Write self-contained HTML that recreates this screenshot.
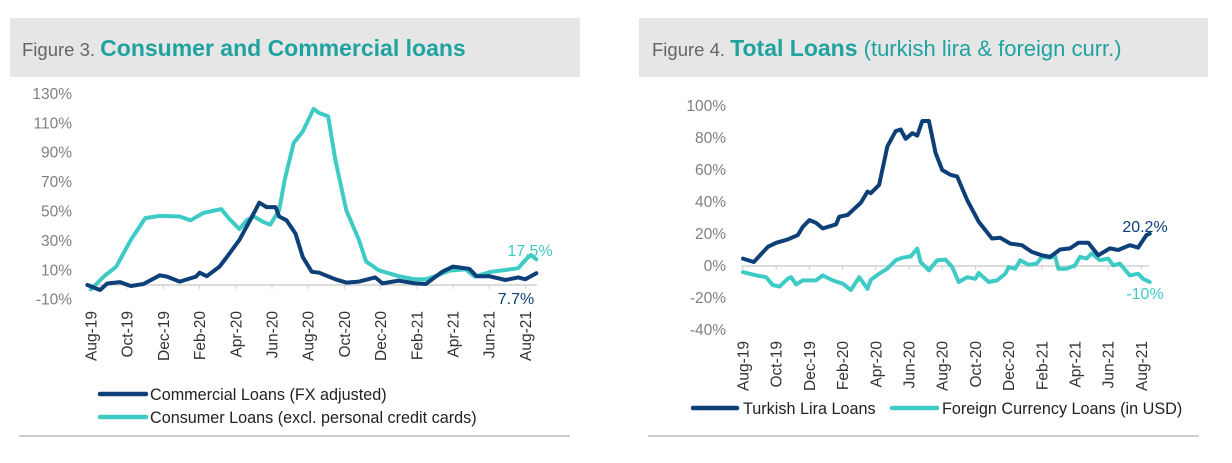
<!DOCTYPE html>
<html><head><meta charset="utf-8"><style>
body{margin:0;width:1232px;height:463px;background:#fff;overflow:hidden;font-family:"Liberation Sans",Arial,sans-serif;}
svg{position:absolute;left:0;top:0}
</style></head><body>
<svg id="s" width="1232" height="463" xmlns="http://www.w3.org/2000/svg" font-family="Liberation Sans, Arial, sans-serif">
<rect x="10" y="18" width="570" height="59" fill="#e6e6e6"/>
<rect x="639" y="18" width="569" height="59" fill="#e6e6e6"/>
<text x="22" y="56" font-size="18.5" fill="#666">Figure 3. <tspan font-size="23" font-weight="bold" fill="#1fa3a0">Consumer and Commercial loans</tspan></text>
<text x="652" y="56" font-size="18.5" fill="#666">Figure 4. <tspan font-size="23" font-weight="bold" fill="#1fa3a0">Total Loans</tspan><tspan font-size="22" fill="#1fa3a0"> (turkish lira &amp; foreign curr.)</tspan></text>
<line x1="19" y1="436" x2="570" y2="436" stroke="#ccc" stroke-width="2"/>
<line x1="648" y1="436" x2="1199" y2="436" stroke="#ccc" stroke-width="2"/>
<g id="g"></g>
</svg>
<script>
var NS="http://www.w3.org/2000/svg",g=document.getElementById('g');
function el(n,a,t){var e=document.createElementNS(NS,n);for(var k in a)e.setAttribute(k,a[k]);if(t)e.textContent=t;g.appendChild(e);return e;}
var months=["Aug-19","Oct-19","Dec-19","Feb-20","Apr-20","Jun-20","Aug-20","Oct-20","Dec-20","Feb-21","Apr-21","Jun-21","Aug-21"];
function chart(o){
  o.yt.forEach(function(v){el('text',{x:o.lx,y:o.Y(v)+5,'font-size':15.5,fill:'#7f7f7f','text-anchor':'end'},v+'%');});
  el('line',{x1:o.x0,y1:o.Y(0),x2:o.x1,y2:o.Y(0),stroke:'#d0d0d0','stroke-width':1.5});
  months.forEach(function(m,i){var x=o.X(i*2);
    el('line',{x1:x,y1:o.Y(0),x2:x,y2:o.Y(0)+4,stroke:'#d0d0d0','stroke-width':1});
    el('text',{x:0,y:0,'font-size':15.5,fill:'#333','text-anchor':'end',transform:'translate('+(x+5.5)+','+o.ly+') rotate(-90)'},m);});
  o.series.forEach(function(s){
    var p=s.d.map(function(q){return o.X(q[0]).toFixed(1)+','+o.Y(q[1]).toFixed(1);}).join(' ');
    el('polyline',{points:p,fill:'none',stroke:s.c,'stroke-width':4,'stroke-linejoin':'round','stroke-linecap':'round'});});
}
var N='#0d3f78',T='#3ecbc6';
chart({X:function(t){return 91+t*18.1},Y:function(v){return 285-v*1.47},lx:72,ly:311,x0:88,x1:537,
 yt:[130,110,90,70,50,30,10,-10],
 series:[
 {c:T,d:[[0,-3],[0.7,5.7],[1.4,12.5],[2.2,30.7],[3,45.5],[3.8,47],[4.9,46.6],[5.5,44],[6.2,49],[7.2,51.6],[7.6,45.5],[8.2,38],[8.6,44],[9,46.6],[9.5,43],[9.9,41],[10.4,51],[10.7,71.6],[11.2,96.6],[11.7,104.5],[12.3,119.8],[12.6,117],[13.1,114.8],[13.5,85],[14.1,51],[14.8,30.7],[15.2,16],[15.9,10],[17,6],[17.9,3.9],[18.5,3.9],[19.2,6.8],[19.8,9.8],[20.7,10.7],[21.2,5.7],[22.1,9],[22.9,10.2],[23.6,11.4],[24,17],[24.3,20.5],[24.6,17.5]]},
 {c:N,d:[[-0.2,0],[0.5,-3.4],[0.9,1],[1.6,2],[2.2,-0.7],[2.9,0.7],[3.8,6.6],[4.2,5.7],[4.9,2.3],[5.8,5.7],[6,8.4],[6.4,6],[7.1,12.5],[7.5,19],[8.2,30.7],[8.9,46.6],[9.3,56],[9.7,53],[10.2,53],[10.4,46.6],[10.8,44],[11.3,35],[11.7,19],[12.2,9],[12.6,8.4],[13.5,3.9],[14.1,1.6],[14.8,2.3],[15.7,5.2],[16.1,1.1],[17,3],[17.9,1.1],[18.5,0.7],[19.4,9],[20,12.5],[20.9,11],[21.3,6],[22,6],[22.9,3.4],[23.6,5.2],[24,3.9],[24.6,8]]}]});
chart({X:function(t){return 743+t*16.6},Y:function(v){return 266-v*1.6},lx:726,ly:341,x0:741,x1:1149,
 yt:[100,80,60,40,20,0,-20,-40],
 series:[
 {c:T,d:[[0,-3.8],[0.8,-5.9],[1.4,-7],[1.8,-12],[2.2,-12.8],[2.7,-8],[2.9,-7],[3.2,-11.5],[3.6,-9],[4.4,-9],[4.8,-5.9],[5.4,-9],[6,-11],[6.5,-15],[7,-7],[7.5,-14.3],[7.7,-8.6],[8.2,-4.8],[8.7,-1.7],[9.2,3.6],[9.6,5.2],[10.1,6],[10.5,10.9],[10.7,2.5],[11.2,-2.7],[11.7,3.6],[12.2,4],[12.6,-0.6],[13,-10],[13.5,-7],[14,-8],[14.2,-4.4],[14.8,-10],[15.3,-9],[15.8,-4.8],[16,-0.6],[16.4,-1.7],[16.7,3.6],[17.2,0.8],[17.7,1.5],[18,5.7],[18.5,5.2],[18.8,6],[19,-1.7],[19.5,-1.7],[20,0.4],[20.3,5.7],[20.7,4.6],[21,7.8],[21.5,3.6],[22,4.6],[22.3,0.4],[22.7,1.5],[23.3,-5.9],[23.8,-4.8],[24.1,-8],[24.5,-10]]},
 {c:N,d:[[0,4.6],[0.65,2.5],[1.5,12],[2,14.5],[2.7,16.6],[3.3,19.3],[3.6,24.5],[4,28.7],[4.4,27],[4.8,23.5],[5.6,26],[5.8,30.8],[6.3,31.9],[7.1,39.6],[7.5,46.5],[7.7,45.5],[8.2,50.7],[8.7,74.8],[9.2,84.3],[9.5,85.3],[9.8,79.5],[10.2,83],[10.5,81.5],[10.8,90.6],[11.2,90.6],[11.6,70.6],[12,60],[12.5,57],[12.9,56],[13.5,41.3],[14.2,27.7],[15,17.2],[15.5,17.6],[16.1,14],[16.8,13],[17.4,8.8],[18,6.7],[18.5,5.7],[19.1,10.3],[19.7,11],[20.2,14.5],[20.8,14.5],[21.4,6.7],[22.1,11],[22.6,10],[23.3,13],[23.8,11.5],[24.3,19.3],[24.5,20.2]]}]});
el('text',{x:530,y:256,'font-size':16,fill:T,'text-anchor':'middle'},'17.5%');
el('text',{x:516,y:304,'font-size':16,fill:N,'text-anchor':'middle'},'7.7%');
el('text',{x:1145,y:232,'font-size':16,fill:N,'text-anchor':'middle'},'20.2%');
el('text',{x:1145,y:299,'font-size':16,fill:T,'text-anchor':'middle'},'-10%');
function leg(x1,x2,y,c,tx,t){el('line',{x1:x1,y1:y,x2:x2,y2:y,stroke:c,'stroke-width':4.5,'stroke-linecap':'round'});el('text',{x:tx,y:y+6,'font-size':16.2,fill:'#222'},t);}
leg(100,146,394,N,150,'Commercial Loans (FX adjusted)');
leg(100,146,417,T,150,'Consumer Loans (excl. personal credit cards)');
leg(693,737,408,N,743,'Turkish Lira Loans');
leg(892,937,408,T,942,'Foreign Currency Loans (in USD)');
</script>
</body></html>
